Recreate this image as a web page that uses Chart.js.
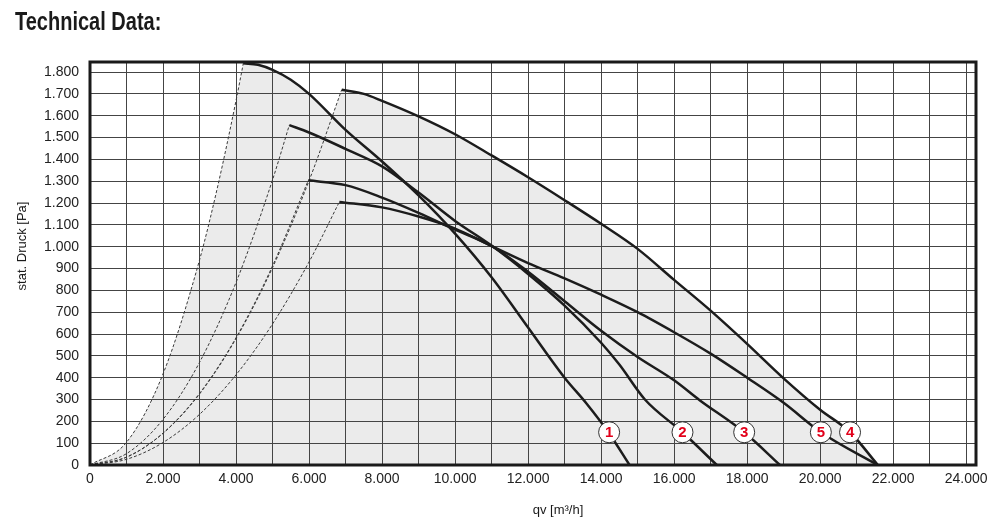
<!DOCTYPE html>
<html>
<head>
<meta charset="utf-8">
<script src="https://cdn.jsdelivr.net/npm/chart.js@4.4.1/dist/chart.umd.min.js"></script>
<style>
  body { margin: 0; background: #fff; font-family: "Liberation Sans", Arial, sans-serif; }
  #wrap { position: relative; width: 999px; height: 530px; overflow: hidden; }
  #chart { position: absolute; left: 0; top: 0; }
  .lbl { position: absolute; color: #1a1a1a; white-space: nowrap; }
  #title { left: 15px; top: 9px; font-size: 25px; line-height: 25px; font-weight: bold; transform: scaleX(0.8); transform-origin: 0 0; }
  #ytitle { left: -38px; top: 239px; width: 120px; text-align: center; font-size: 13px; line-height: 14px; transform: rotate(-90deg); }
  #xtitle { left: 498px; top: 503px; width: 120px; text-align: center; font-size: 13px; line-height: 14px; }
</style>
</head>
<body>
<div id="wrap">
  <canvas id="chart" width="999" height="530"></canvas>
  <div class="lbl" id="title">Technical Data:</div>
  <div class="lbl" id="ytitle">stat. Druck [Pa]</div>
  <div class="lbl" id="xtitle">qv [m³/h]</div>
</div>
<script>
// fan curves (qv in m3/h, pressure in Pa)
const qv1 = [4200, 4600, 5000, 5500, 6000, 7000, 8000, 9000, 10000, 11000, 12000, 13000, 13600, 14200, 14780];
const p1  = [1840, 1833, 1810, 1765, 1700, 1535, 1390, 1235, 1060, 860, 630, 400, 282, 150, 0];

const qv2 = [5460, 6000, 7000, 8000, 9000, 10000, 11000, 12000, 13000, 14000, 14500, 15200, 16230, 17170];
const p2  = [1557, 1523, 1448, 1368, 1248, 1118, 1005, 875, 730, 560, 460, 300, 150, 0];

const qv3 = [5980, 7000, 8000, 9000, 10000, 11000, 12000, 13000, 14000, 15000, 16000, 16700, 17920, 18900];
const p3  = [1304, 1282, 1225, 1155, 1078, 1003, 885, 750, 615, 495, 388, 297, 150, 0];

const qv4 = [6895, 7500, 8000, 9000, 10000, 11000, 12000, 13000, 14000, 15000, 16000, 17000, 18000, 19000, 20000, 20820, 21580];
const p4  = [1719, 1700, 1668, 1597, 1515, 1418, 1318, 1213, 1105, 990, 848, 707, 555, 397, 253, 150, 0];

const qv5 = [6830, 8000, 9000, 10000, 11000, 12000, 13000, 14000, 15000, 16000, 17000, 18000, 19000, 20020, 21580];
const p5  = [1205, 1180, 1138, 1083, 1003, 925, 855, 780, 700, 608, 510, 400, 285, 150, 0];

// dashed system curves up to each fan curve start
const sq1 = [0, 1000, 2000, 3000, 3500, 4000, 4200];
const sp1 = [0, 104, 417, 939, 1278, 1669, 1840];
const sq2 = [0, 1000, 2000, 3000, 4000, 5000, 5460];
const sp2 = [0, 52, 209, 470, 836, 1306, 1557];
const sq3 = [0, 1000, 2000, 3000, 4000, 5000, 5980];
const sp3 = [0, 36, 146, 328, 583, 912, 1304];
const sq4 = [0, 1000, 2000, 3000, 4000, 5000, 6000, 6895];
const sp4 = [0, 36, 145, 325, 579, 904, 1302, 1719];
const sq5 = [0, 1000, 2000, 3000, 4000, 5000, 6000, 6830];
const sp5 = [0, 26, 103, 232, 413, 646, 930, 1205];

// numbered markers
const markerLabels = ['1', '2', '3', '5', '4'];
const markerQv = [14220, 16230, 17920, 20020, 20820];
const markerP  = [150, 150, 150, 150, 150];

// axis ticks
const xTickValues = [0, 1000, 2000, 3000, 4000, 5000, 6000, 7000, 8000, 9000, 10000, 11000, 12000,
  13000, 14000, 15000, 16000, 17000, 18000, 19000, 20000, 21000, 22000, 23000, 24000];
const yTickValues = [0, 100, 200, 300, 400, 500, 600, 700, 800, 900, 1000, 1100, 1200,
  1300, 1400, 1500, 1600, 1700, 1800];

const FILL = '#ebebeb';

const fmt = v => v >= 1000 ? Math.floor(v / 1000) + '.' + String(v % 1000).padStart(3, '0') : String(v);
const pts = (xs, ys) => xs.map((x, i) => ({ x, y: ys[i] }));

function solid(xs, ys) {
  return {
    data: pts(xs, ys), showLine: true, pointRadius: 0,
    borderColor: '#1c1c1c', borderWidth: 2.5,
    cubicInterpolationMode: 'monotone'
  };
}
function dashed(xs, ys) {
  return {
    data: pts(xs, ys), showLine: true, pointRadius: 0,
    borderColor: '#3a3a3a', borderWidth: 1, borderDash: [3, 2],
    cubicInterpolationMode: 'monotone'
  };
}

// gray working area: union of the areas under every curve, painted behind the grid
const envelope = {
  id: 'envelope',
  beforeDraw(chart) {
    const { ctx, chartArea: a } = chart;
    const base = chart.scales.y.getPixelForValue(0);
    ctx.save();
    ctx.beginPath();
    ctx.rect(a.left, a.top, a.right - a.left, a.bottom - a.top);
    ctx.clip();
    ctx.beginPath();
    for (let i = 1; i <= 10; i++) {
      const line = chart.getDatasetMeta(i).dataset;
      line.updateControlPoints(a, 'x');
      const p = line.points;
      line.path(ctx);
      ctx.lineTo(p[p.length - 1].x, base);
      ctx.lineTo(p[0].x, base);
      ctx.closePath();
    }
    ctx.fillStyle = FILL;
    ctx.fill();
    ctx.restore();
  }
};

const markerText = {
  id: 'markerText',
  afterDatasetsDraw(chart) {
    const ctx = chart.ctx;
    const meta = chart.getDatasetMeta(0);
    ctx.save();
    ctx.font = 'bold 15px "Liberation Sans", Arial, sans-serif';
    ctx.fillStyle = '#e2001a';
    ctx.textAlign = 'center';
    ctx.textBaseline = 'middle';
    meta.data.forEach((el, i) => ctx.fillText(markerLabels[i], el.x, el.y + 1));
    ctx.restore();
  }
};

const frame = {
  id: 'frame',
  afterDraw(chart) {
    const { ctx, chartArea: a } = chart;
    ctx.save();
    ctx.strokeStyle = '#1a1a1a';
    ctx.lineWidth = 3;
    ctx.strokeRect(a.left, a.top, a.right - a.left, a.bottom - a.top);
    ctx.restore();
  }
};

new Chart(document.getElementById('chart'), {
  type: 'scatter',
  data: {
    datasets: [
      {
        data: pts(markerQv, markerP), pointRadius: 10.5,
        pointBackgroundColor: '#fff', pointBorderColor: '#333', pointBorderWidth: 1
      },
      solid(qv1, p1), solid(qv2, p2), solid(qv3, p3), solid(qv4, p4), solid(qv5, p5),
      dashed(sq1, sp1), dashed(sq2, sp2), dashed(sq3, sp3), dashed(sq4, sp4), dashed(sq5, sp5)
    ]
  },
  options: {
    responsive: false,
    animation: false,
    events: [],
    layout: { padding: { left: 0, right: 23, top: 62, bottom: 35 } },
    plugins: {
      legend: { display: false },
      tooltip: { enabled: false }
    },
    scales: {
      x: {
        type: 'linear', min: 0, max: 24270,
        afterBuildTicks: s => { s.ticks = xTickValues.map(value => ({ value })); },
        afterFit: s => { s.height = 30; },
        ticks: {
          autoSkip: false, maxRotation: 0, padding: 6,
          color: '#222', font: { size: 14, family: '"Liberation Sans", Arial, sans-serif' },
          callback: v => v % 2000 === 0 ? fmt(v) : ''
        },
        grid: { color: '#444', lineWidth: 1, drawTicks: false },
        border: { display: false }
      },
      y: {
        min: 0, max: 1846,
        afterBuildTicks: s => { s.ticks = yTickValues.map(value => ({ value })); },
        afterFit: s => { s.width = 90; },
        ticks: {
          autoSkip: false, padding: 11,
          color: '#222', font: { size: 14, family: '"Liberation Sans", Arial, sans-serif' },
          callback: v => fmt(v)
        },
        grid: { color: '#444', lineWidth: 1, drawTicks: false },
        border: { display: false }
      }
    }
  },
  plugins: [envelope, markerText, frame]
});
</script>
</body>
</html>
